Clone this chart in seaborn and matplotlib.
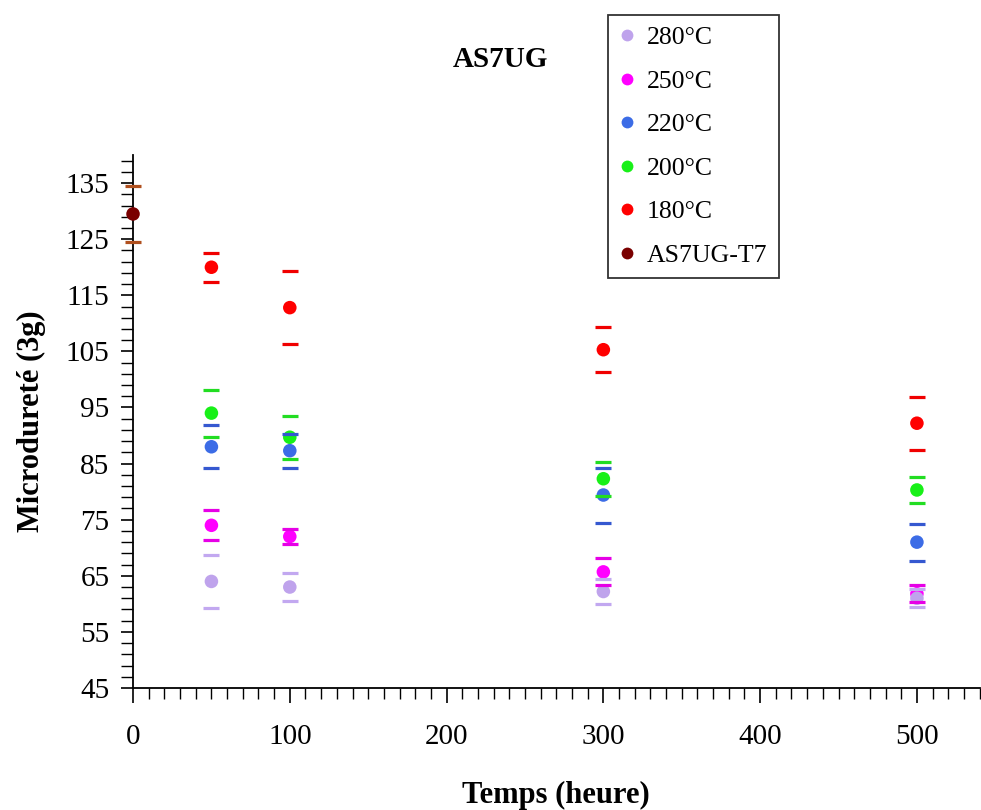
import numpy as np
import pandas as pd
import matplotlib
matplotlib.use('Agg')
import matplotlib.pyplot as plt
from matplotlib.ticker import FixedLocator, MultipleLocator
from matplotlib.lines import Line2D
import seaborn as sns

# --- data ---
series_names = ['280°C', '250°C', '220°C', '200°C', '180°C', 'AS7UG-T7']
times = [50, 100, 300, 500]

hv_280 = [64.0, 63.0, 62.2, 61.0]
err_280 = [4.7, 2.5, 2.3, 1.6]
hv_250 = [74.0, 72.0, 65.7, 61.8]
err_250 = [2.7, 1.4, 2.4, 1.5]
hv_220 = [88.0, 87.3, 79.4, 71.0]
err_220 = [3.8, 3.0, 4.9, 3.3]
hv_200 = [94.0, 89.7, 82.3, 80.3]
err_200 = [4.2, 3.8, 3.0, 2.3]
hv_180 = [120.0, 112.8, 105.3, 92.2]
err_180 = [2.6, 6.5, 4.0, 4.7]

t7_time = [0]
t7_hv = [129.5]
t7_err = [5.0]

point_colors = ['#BFA3EC', '#FF00FF', '#3C6CE6', '#18F018', '#FF0000', '#7A0000']
cap_colors = ['#C2A8F0', '#E600E6', '#3558D0', '#22DD22', '#F00000', '#B0501E']

rows = []
for name, hv, err in zip(series_names[:5],
                         [hv_280, hv_250, hv_220, hv_200, hv_180],
                         [err_280, err_250, err_220, err_200, err_180]):
    for t, v, e in zip(times, hv, err):
        rows.append({'serie': name, 'temps': t, 'hv': v, 'err': e})
for t, v, e in zip(t7_time, t7_hv, t7_err):
    rows.append({'serie': series_names[5], 'temps': t, 'hv': v, 'err': e})
df = pd.DataFrame(rows)

sns.set_theme(style='white')
plt.rcParams['font.family'] = ['Liberation Serif', 'DejaVu Serif']
plt.rcParams['text.color'] = 'black'
plt.rcParams['axes.labelcolor'] = 'black'

fig = plt.figure(figsize=(9.81, 8.10), dpi=100)
ax = fig.add_axes([0.1356, 0.1506, 0.863, 0.658])

palette = dict(zip(series_names, point_colors))
# points first, higher temperatures underneath
draw_order = ['AS7UG-T7', '180°C', '200°C', '220°C', '250°C', '280°C']
for name in draw_order:
    sub = df[df['serie'] == name]
    sns.scatterplot(data=sub, x='temps', y='hv', color=palette[name], s=95,
                    edgecolor='none', ax=ax, legend=False, clip_on=False, zorder=3)

# error caps only (no vertical line)
for name, ccol in zip(series_names, cap_colors):
    sub = df[df['serie'] == name]
    ax.errorbar(sub['temps'], sub['hv'], yerr=sub['err'], fmt='none',
                ecolor=ccol, elinewidth=0, capsize=5.5, capthick=2.3,
                zorder=4, clip_on=False)

ax.set_xlim(0, 540)
ax.set_ylim(45, 140)

ax.xaxis.set_major_locator(FixedLocator([0, 100, 200, 300, 400, 500]))
ax.xaxis.set_minor_locator(MultipleLocator(10))
ax.yaxis.set_major_locator(FixedLocator(np.arange(45, 136, 10)))
ax.yaxis.set_minor_locator(FixedLocator(np.arange(45, 141, 2)))

ax.tick_params(axis='x', which='major', direction='out', length=11, width=1.2,
               labelsize=21, pad=15, colors='black', bottom=True)
ax.tick_params(axis='x', which='minor', direction='out', length=8, width=1.0,
               colors='black', bottom=True)
ax.tick_params(axis='y', which='major', direction='out', length=9, width=1.2,
               labelsize=21, pad=8, colors='black', left=True)
ax.tick_params(axis='y', which='minor', direction='out', length=9, width=1.0,
               colors='black', left=True)

for side in ['top', 'right']:
    ax.spines[side].set_visible(False)
for side in ['left', 'bottom']:
    ax.spines[side].set_color('black')
    ax.spines[side].set_linewidth(1.3)
ax.grid(False)

ax.set_xlabel('Temps (heure)', fontsize=22, fontweight='bold', labelpad=22, color='black')
ax.set_ylabel('Microdureté (3g)', fontsize=22, fontweight='bold', labelpad=14, color='black')
fig.text(0.510, 0.927, 'AS7UG', fontsize=21, fontweight='bold', ha='center', va='center',
         color='black')

handles = [Line2D([], [], marker='o', linestyle='none', markersize=8.5,
                  markerfacecolor=c, markeredgecolor='none') for c in point_colors]
leg = fig.legend(handles, series_names, loc='upper left',
                 bbox_to_anchor=(0.62, 0.982), frameon=True, fancybox=False,
                 edgecolor='black', fontsize=18.5, labelspacing=0.8,
                 handlelength=0.6, handletextpad=0.45, borderpad=0.45,
                 borderaxespad=0)
leg.get_frame().set_linewidth(1.3)
for t in leg.get_texts():
    t.set_color('black')

fig.savefig('out.png', dpi=100)
